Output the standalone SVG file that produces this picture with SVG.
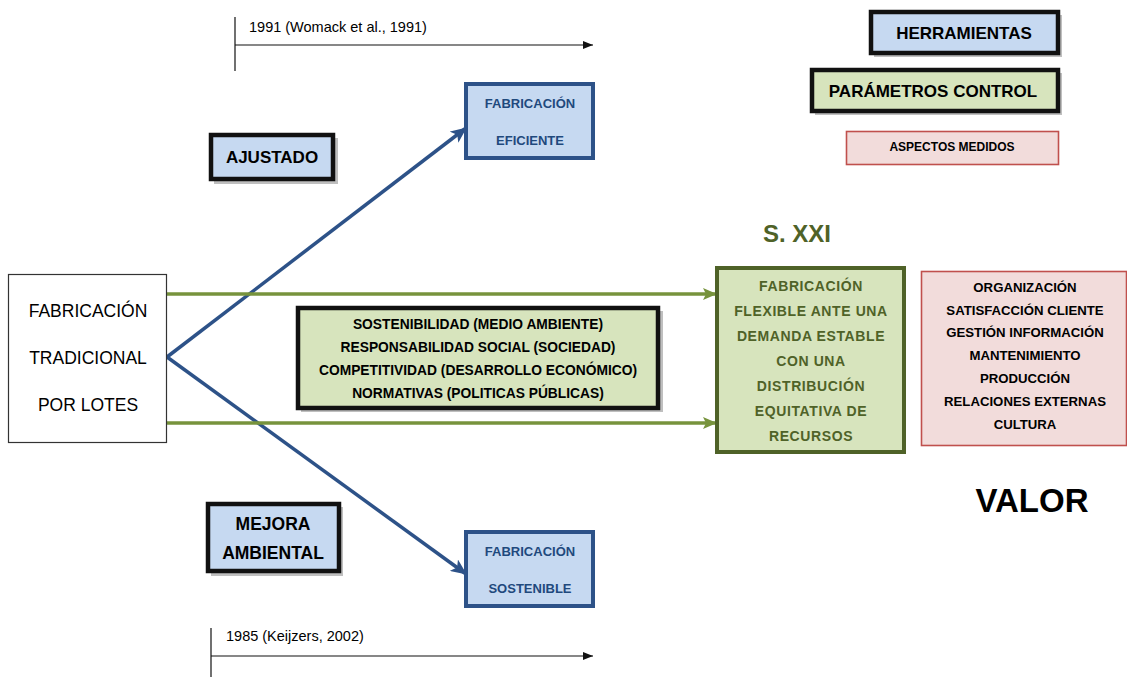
<svg xmlns="http://www.w3.org/2000/svg" width="1127" height="677" viewBox="0 0 1127 677">
  <style>
    text { font-family: "Liberation Sans", Arial, sans-serif; text-anchor: middle; }
    .b { font-weight: bold; }
    .blueBox { fill: #C6D9F1; stroke: #2D5288; stroke-width: 4; }
    .blueTxt { fill: #1F497D; font-weight: bold; font-size: 13px; }
    .blackBlue { fill: #C6D9F1; stroke: #111; stroke-width: 4.5; }
    .blackGreen { fill: #D7E4BD; stroke: #111; stroke-width: 4.5; }
    .shadow { fill: #8a8a8a; opacity: 0.55; }
    .pink { fill: #F2DCDB; stroke: #C0504D; stroke-width: 1.6; }
    .olive { fill: #4F6228; }
    .blueLine { stroke: #2D5288; stroke-width: 3.5; fill: none; }
    .greenLine { stroke: #77933C; stroke-width: 3.5; fill: none; }
    .axis { stroke: #111; stroke-width: 1.2; fill: none; }
  </style>
  <defs>
    <marker id="headBlue" markerUnits="userSpaceOnUse" markerWidth="16" markerHeight="14" refX="15" refY="7" orient="auto">
      <path d="M0,0 L16,7 L0,14 L4,7 Z" fill="#2D5288"/>
    </marker>
    <marker id="headGreen" markerUnits="userSpaceOnUse" markerWidth="14" markerHeight="12" refX="13" refY="6" orient="auto">
      <path d="M0,0 L14,6 L0,12 L3,6 Z" fill="#77933C"/>
    </marker>
    <marker id="headBlack" markerUnits="userSpaceOnUse" markerWidth="10" markerHeight="8" refX="10" refY="4" orient="auto">
      <path d="M0,0 L10,4 L0,8 Z" fill="#111"/>
    </marker>
  </defs>

  <!-- time axes -->
  <g id="axis-1991">
    <line class="axis" x1="235" y1="17" x2="235" y2="71"/>
    <line class="axis" x1="235" y1="45" x2="593" y2="45" marker-end="url(#headBlack)"/>
    <text x="249" y="32" font-size="14.5" style="text-anchor:start">1991 (Womack et al., 1991)</text>
  </g>
  <g id="axis-1985">
    <line class="axis" x1="211" y1="628" x2="211" y2="677"/>
    <line class="axis" x1="211" y1="656" x2="593" y2="656" marker-end="url(#headBlack)"/>
    <text x="226" y="641" font-size="14.5" style="text-anchor:start">1985 (Keijzers, 2002)</text>
  </g>

  <!-- connectors -->
  <g id="connectors">
    <line class="blueLine" x1="167" y1="357" x2="466" y2="128" marker-end="url(#headBlue)"/>
    <line class="blueLine" x1="167" y1="357" x2="466" y2="574" marker-end="url(#headBlue)"/>
    <line class="greenLine" x1="167" y1="294" x2="716" y2="294" marker-end="url(#headGreen)"/>
    <line class="greenLine" x1="167" y1="423" x2="716" y2="423" marker-end="url(#headGreen)"/>
  </g>

  <!-- starting point -->
  <g id="tradicional">
    <rect x="8.5" y="274.5" width="158" height="168" fill="#fff" stroke="#333" stroke-width="1.2"/>
    <text x="88" y="317" font-size="17.5">FABRICACIÓN</text>
    <text x="88" y="364" font-size="17.5">TRADICIONAL</text>
    <text x="88" y="411" font-size="17.5">POR LOTES</text>
  </g>

  <!-- lean branch -->
  <g id="ajustado">
    <rect class="shadow" x="214" y="138" width="124" height="46"/>
    <rect class="blackBlue" x="211" y="135" width="122" height="44"/>
    <text class="b" x="272" y="163" font-size="17">AJUSTADO</text>
  </g>
  <g id="eficiente">
    <rect class="blueBox" x="466" y="84" width="127" height="74"/>
    <text class="blueTxt" x="530" y="108">FABRICACIÓN</text>
    <text class="blueTxt" x="530" y="145">EFICIENTE</text>
  </g>

  <!-- environmental branch -->
  <g id="mejora-ambiental">
    <rect class="shadow" x="211" y="507" width="132" height="69"/>
    <rect class="blackBlue" x="208" y="504" width="131" height="67"/>
    <text class="b" x="273" y="530" font-size="17.5">MEJORA</text>
    <text class="b" x="273" y="559" font-size="17.5">AMBIENTAL</text>
  </g>
  <g id="sostenible">
    <rect class="blueBox" x="466" y="532" width="127" height="74"/>
    <text class="blueTxt" x="530" y="556">FABRICACIÓN</text>
    <text class="blueTxt" x="530" y="593">SOSTENIBLE</text>
  </g>

  <!-- control parameters -->
  <g id="parametros-centro">
    <rect class="shadow" x="301" y="311" width="362" height="101"/>
    <rect class="blackGreen" x="298" y="308" width="360" height="100"/>
    <text class="b" x="478" y="329" font-size="13.8">SOSTENIBILIDAD (MEDIO AMBIENTE)</text>
    <text class="b" x="478" y="352" font-size="13.8">RESPONSABILIDAD SOCIAL (SOCIEDAD)</text>
    <text class="b" x="478" y="375" font-size="13.8">COMPETITIVIDAD (DESARROLLO ECONÓMICO)</text>
    <text class="b" x="478" y="398" font-size="13.8">NORMATIVAS (POLITICAS PÚBLICAS)</text>
  </g>

  <!-- 21st century target -->
  <text id="sxxi" class="b olive" x="797" y="242" font-size="24">S. XXI</text>
  <g id="flexible">
    <rect x="717" y="268" width="187" height="184" fill="#D7E4BD" stroke="#4F6228" stroke-width="4"/>
    <g class="b olive" font-size="14" letter-spacing="0.6">
      <text x="811" y="291">FABRICACIÓN</text>
      <text x="811" y="316">FLEXIBLE ANTE UNA</text>
      <text x="811" y="341">DEMANDA ESTABLE</text>
      <text x="811" y="366">CON UNA</text>
      <text x="811" y="391">DISTRIBUCIÓN</text>
      <text x="811" y="416">EQUITATIVA DE</text>
      <text x="811" y="441">RECURSOS</text>
    </g>
  </g>
  <g id="aspectos">
    <rect class="pink" x="921.5" y="271.5" width="205" height="174"/>
    <g class="b" font-size="13.2">
      <text x="1025" y="292">ORGANIZACIÓN</text>
      <text x="1025" y="315">SATISFACCIÓN CLIENTE</text>
      <text x="1025" y="337">GESTIÓN INFORMACIÓN</text>
      <text x="1025" y="360">MANTENIMIENTO</text>
      <text x="1025" y="383">PRODUCCIÓN</text>
      <text x="1025" y="406">RELACIONES EXTERNAS</text>
      <text x="1025" y="429">CULTURA</text>
    </g>
  </g>
  <text id="valor" class="b" x="1032" y="512" font-size="33">VALOR</text>

  <!-- legend -->
  <g id="legend-herramientas">
    <rect class="shadow" x="874" y="15" width="188" height="42"/>
    <rect class="blackBlue" x="871" y="12" width="187" height="41"/>
    <text class="b" x="964" y="39" font-size="17">HERRAMIENTAS</text>
  </g>
  <g id="legend-parametros">
    <rect class="shadow" x="815" y="73" width="247" height="42"/>
    <rect class="blackGreen" x="812" y="70" width="246" height="41"/>
    <text class="b" x="933" y="97" font-size="17">PARÁMETROS CONTROL</text>
  </g>
  <g id="legend-aspectos">
    <rect class="pink" x="846.5" y="131.5" width="212" height="33"/>
    <text class="b" x="952" y="151" font-size="12">ASPECTOS MEDIDOS</text>
  </g>
</svg>
